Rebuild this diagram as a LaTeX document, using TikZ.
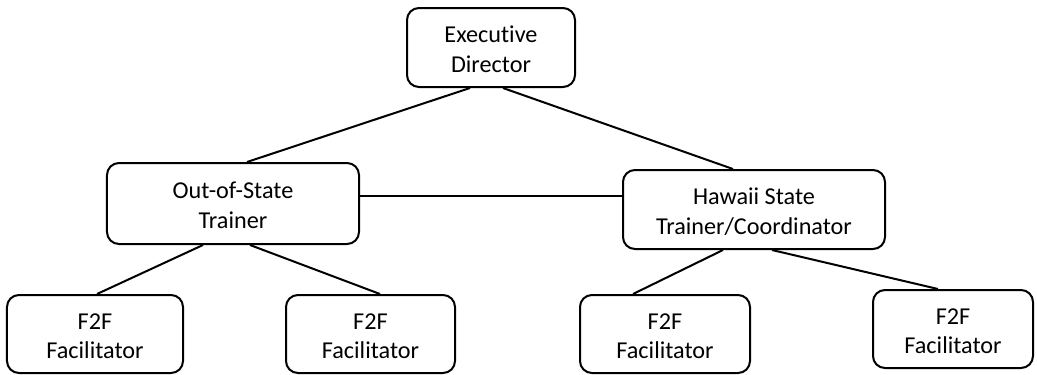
\documentclass[tikz,border=0pt]{standalone}
\usepackage{fontspec}
\setmainfont{Carlito}[Ligatures=NoCommon]
\newcommand{\twoline}[2]{\raisebox{-10.5bp}[0pt][0pt]{\begin{tabular}{@{}c@{}}#1\\#2\end{tabular}}}
\begin{document}
\begin{tikzpicture}[x=1bp,y=-1bp,
  box/.style={draw=black,line width=2bp,rounded corners=12bp,
    inner sep=0pt,font=\fontsize{24.3}{29.5}\selectfont},
  link/.style={draw=black,line width=2bp}]
\useasboundingbox (0,0) rectangle (1037,374);
\node[box,minimum width=168bp,minimum height=79bp] (exec) at (491,47.5) {\twoline{Executive}{Director}};
\node[box,minimum width=252bp,minimum height=81bp] (oos) at (233,203.5) {\twoline{Out-of-State}{Trainer}};
\node[box,minimum width=262bp,minimum height=79bp] (haw) at (754,209.5) {\twoline{Hawaii State}{Trainer/Coordinator}};
\node[box,minimum width=176bp,minimum height=78bp] (f1) at (95,334) {\twoline{F2F}{Facilitator}};
\node[box,minimum width=169bp,minimum height=78bp] (f2) at (370.5,334) {\twoline{F2F}{Facilitator}};
\node[box,minimum width=170bp,minimum height=78bp] (f3) at (665,334) {\twoline{F2F}{Facilitator}};
\node[box,minimum width=160bp,minimum height=78bp] (f4) at (953,329) {\twoline{F2F}{Facilitator}};
\draw[link] ([xshift=-21bp]exec.south) -- ([xshift=14bp]oos.north);
\draw[link] ([xshift=12bp]exec.south) -- ([xshift=-21bp]haw.north);
\draw[link] ([yshift=8bp]oos.east) -- ([yshift=8bp]oos.east -| haw.west);
\draw[link] ([xshift=-30bp]oos.south) -- ([xshift=2bp]f1.north);
\draw[link] ([xshift=17bp]oos.south) -- ([xshift=9.5bp]f2.north);
\draw[link] ([xshift=-31bp]haw.south) -- ([xshift=-32bp]f3.north);
\draw[link] ([xshift=18bp]haw.south) -- ([xshift=-15bp]f4.north);
\end{tikzpicture}
\end{document}
